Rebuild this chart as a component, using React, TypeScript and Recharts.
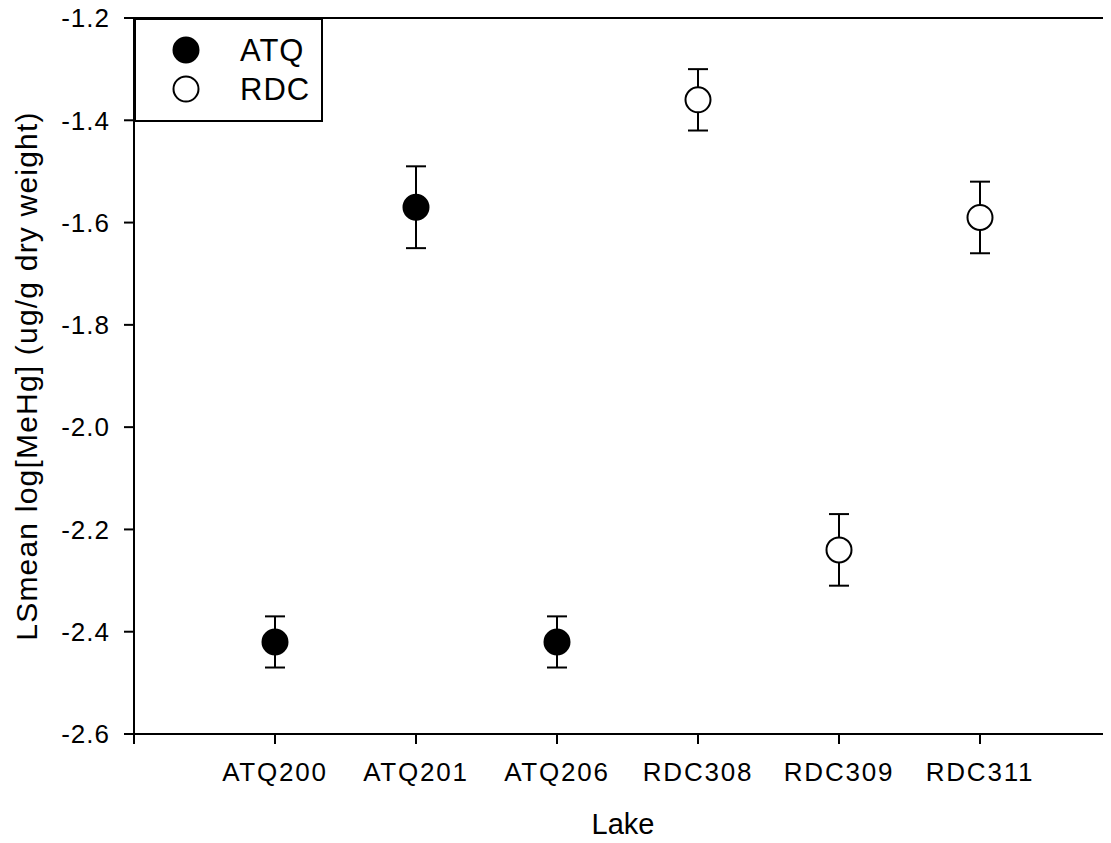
import React from "react";
import {
  ErrorBar,
  Legend,
  ReferenceLine,
  Scatter,
  ScatterChart,
  XAxis,
  YAxis,
} from "recharts";

const lakes = ["ATQ200", "ATQ201", "ATQ206", "RDC308", "RDC309", "RDC311"];
const lakeGroups = ["ATQ", "ATQ", "ATQ", "RDC", "RDC", "RDC"];
const lsMeans = [-2.42, -1.57, -2.42, -1.36, -2.24, -1.59];
const stdErrors = [0.05, 0.08, 0.05, 0.06, 0.07, 0.07];
const yTicks = [-2.6, -2.4, -2.2, -2.0, -1.8, -1.6, -1.4, -1.2];
const xTicks = [0, 1, 2, 3, 4, 5, 6, 7];

const seriesNames = ["ATQ", "RDC"];
const seriesFills: Record<string, string> = { ATQ: "#000000", RDC: "#ffffff" };

const font = "Arial, 'Liberation Sans', sans-serif";

// one point per lake, x = position on the axis
const rows = lakes.map((lake, i) => ({
  x: i + 1,
  lake,
  group: lakeGroups[i],
  y: lsMeans[i],
  err: stdErrors[i],
}));

const dot = (fill: string) => (props: any) => (
  <circle
    cx={props.cx}
    cy={props.cy}
    r={12.5}
    fill={fill}
    stroke="#000"
    strokeWidth={2}
  />
);

function LegendBox() {
  return (
    <div
      style={{
        width: 189,
        height: 104,
        border: "2px solid #000",
        boxSizing: "border-box",
        background: "#fff",
      }}
    >
      <svg width={185} height={100}>
        {seriesNames.map((name, i) => (
          <g key={name}>
            <circle
              cx={50}
              cy={30 + i * 39}
              r={12.5}
              fill={seriesFills[name]}
              stroke="#000"
              strokeWidth={2}
            />
            <text
              x={104}
              y={41 + i * 39}
              fontSize={31}
              fontFamily={font}
              letterSpacing={1}
              fill="#000"
            >
              {name}
            </text>
          </g>
        ))}
      </svg>
    </div>
  );
}

export default function App() {
  return (
    <div style={{ margin: -8, width: 1111, height: 843, overflow: "hidden", background: "#fff" }}>
      <ScatterChart
        width={1125}
        height={843}
        margin={{ top: 18, right: 4, bottom: 0, left: 0 }}
      >
        <XAxis
          type="number"
          dataKey="x"
          domain={[0, 7]}
          ticks={xTicks}
          tickFormatter={(v: number) => lakes[v - 1] ?? ""}
          height={109}
          tickSize={10}
          tickMargin={19}
          stroke="#000"
          strokeWidth={2}
          tick={{ fill: "#000", fontSize: 26, fontFamily: font, letterSpacing: 1.8 }}
          label={() => (
            <text x={623} y={834} textAnchor="middle" fontSize={29} fontFamily={font} fill="#000">
              Lake
            </text>
          )}
        />
        <YAxis
          type="number"
          dataKey="y"
          domain={[-2.6, -1.2]}
          ticks={yTicks}
          tickFormatter={(v: number) => v.toFixed(1)}
          width={134}
          tickSize={10}
          tickMargin={14}
          stroke="#000"
          strokeWidth={2}
          tick={{ fill: "#000", fontSize: 26, fontFamily: font, letterSpacing: 1 }}
          label={() => (
            <text
              x={37}
              y={376}
              transform="rotate(-90 37 376)"
              textAnchor="middle"
              fontSize={30}
              fontFamily={font}
              letterSpacing={1.2}
              fill="#000"
            >
              LSmean log[MeHg] (ug/g dry weight)
            </text>
          )}
        />
        <ReferenceLine y={-1.2} stroke="#000" strokeWidth={2} />
        {seriesNames.map((name) => (
          <Scatter
            key={name}
            name={name}
            data={rows.filter((r) => r.group === name)}
            dataKey="y"
            shape={dot(seriesFills[name])}
            isAnimationActive={false}
          >
            <ErrorBar
              dataKey="err"
              direction="y"
              width={10}
              stroke="#000"
              strokeWidth={2}
            />
          </Scatter>
        ))}
        <Legend
          layout="vertical"
          align="center"
          verticalAlign="middle"
          content={() => <LegendBox />}
          wrapperStyle={{ left: 134, top: 18, width: 189, height: 104 }}
        />
      </ScatterChart>
    </div>
  );
}
